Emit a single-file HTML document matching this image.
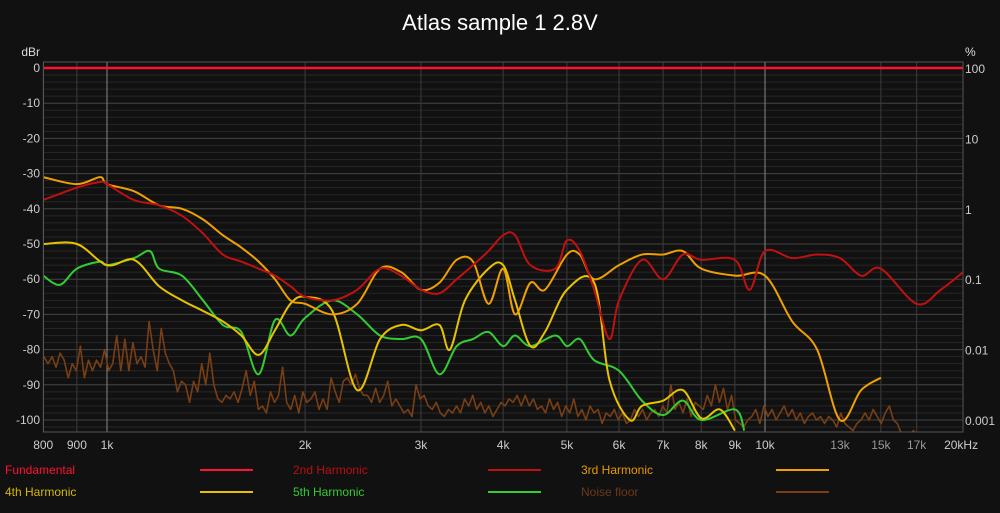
<!DOCTYPE html>
<html><head><meta charset="utf-8"><style>
body{margin:0;background:#111;width:1000px;height:508px;overflow:hidden;font-family:"Liberation Sans",sans-serif}
svg text{font-family:"Liberation Sans",sans-serif}
</style></head><body>
<svg id="c" width="1000" height="508">
<text x="500" y="30" fill="#fff" font-size="22" text-anchor="middle">Atlas sample 1 2.8V</text>
<text x="40" y="56" fill="#ddd" font-size="12" text-anchor="end">dBr</text>
<text x="965" y="56" fill="#ddd" font-size="12">%</text>
<g id="grid"></g><g id="series"></g><g id="axes"></g><g id="legend"></g>
</svg>
<script>
const freqTicks=[800,900,1000,2000,3000,4000,5000,6000,7000,8000,9000,10000,13000,15000,17000,20000];
const freqLabels=["800","900","1k","2k","3k","4k","5k","6k","7k","8k","9k","10k","13k","15k","17k","20kHz"];
const gridFreqs=[800,900,1000,2000,3000,4000,5000,6000,7000,8000,9000,10000,15000,17000];
const dbTicks=[0,-10,-20,-30,-40,-50,-60,-70,-80,-90,-100];
const pctTicks=[0,-20,-40,-60,-80,-100];
const pctLabels=["100","10","1","0.1","0.01","0.001"];
const fundF=[800,20000];const fundV=[0,0];
const h2F=[800,900,976,1000,1099,1200,1300,1399,1500,1600,1700,1800,1900,2000,2200,2400,2600,2800,3000,3200,3400,3600,3800,4000,4170,4400,4800,5000,5230,5500,5800,6000,6500,7000,7500,8000,9000,9480,10000,11000,12000,13000,14000,15000,17000,18500,20000];
const h2V=[-37.5,-34,-32.4,-33,-37.5,-39,-42,-47,-53,-55,-57,-59,-62,-65,-66,-63,-57,-59,-63,-64,-60,-56,-52,-47.5,-47.5,-56,-57,-49,-52,-63,-77,-66,-54.5,-60,-53,-54.5,-54.5,-63,-52,-54,-53,-54,-59,-57,-67,-63,-58];
const h3F=[800,900,976,1000,1099,1200,1300,1399,1500,1600,1700,1800,1900,2000,2200,2400,2600,2800,3000,3200,3400,3600,3800,4000,4170,4400,4630,5000,5230,5500,6000,6500,7000,7500,8000,9000,10000,11000,12000,13000,14000,15000];
const h3V=[-31,-33,-31,-33,-35,-39,-40,-43,-47.5,-51,-55,-60,-66,-67,-70,-67,-57,-58,-63,-61,-54.5,-55,-67,-57,-70,-61,-63,-53,-53,-60,-56,-53,-53,-52,-57,-59,-59,-72,-80,-100,-91.5,-88];
const h4F=[800,900,1000,1099,1200,1300,1399,1500,1600,1700,1800,1900,2000,2200,2400,2600,2800,3000,3200,3320,3500,3800,4000,4170,4400,4630,5000,5500,5800,6230,6500,7000,7500,8000,8540,9000];
const h4V=[-50,-50,-56,-54.5,-62,-66,-69,-72,-76,-81.5,-74.5,-67,-65,-69,-91.5,-77,-73,-74.5,-73,-80,-66,-57,-56,-66,-79,-75,-63,-61,-88.5,-100,-96,-94.5,-91.5,-99.5,-97,-103];
const h5F=[800,848,900,976,1000,1099,1162,1200,1300,1399,1500,1600,1700,1800,1900,2000,2200,2400,2600,2800,3000,3200,3400,3600,3800,4000,4170,4400,4800,5000,5230,5500,6000,6500,7000,7500,8000,9000,9300];
const h5V=[-59,-61.6,-57,-55,-56,-54,-52,-57,-59,-66,-73,-75,-87,-71.6,-76,-71,-66,-70,-76,-77,-77,-87,-79,-77,-75,-79,-76,-79,-76,-79,-77,-83,-86,-94.5,-98.6,-94.5,-100,-97,-103];
const noiseStartHz=802;
const noiseEndHz=17800;
const nV=[-82,-84,-82,-85,-81,-83,-88,-84,-86,-79,-88,-83,-86,-83,-85,-80,-86,-84,-76,-86,-77,-86,-78,-84,-82,-85,-72,-80,-86,-74,-81,-84,-86,-92,-89,-90,-95,-89,-92,-84,-90,-81,-90,-94,-95,-93,-94,-92,-95,-91,-86,-93,-89,-97,-96,-98,-92,-95,-93,-85,-95,-97,-93,-98,-92,-95,-94,-92,-97,-94,-97,-88,-92,-95,-89,
-88,-90,-87,-91,-93,-93,-95,-91,-95,-93,-89,-96,-94,-96,-98,-97,-99,-90,-94,-93,-96,-97,-95,-98,-99,-97,-98,-96,-98,-94,-96,-93,-97,-95,-98,-96,-99,-97,-95,-96,-94,-95,-93,-96,-93,-96,-94,-97,-96,-98,-94,-97,-95,-99,-96,-98,-94,-99,-97,-100,-96,-98,-97,-101,-98,-99,-97,-100,-98,-101,-100,
-97,-99,-97,-100,-98,-97,-99,-96,-98,-90,-97,-95,-98,-94,-99,-95,-96,-97,-93,-96,-90,-95,-91,-97,-93,-100,-101,-102,-100,-99,-97,-101,-96,-99,-97,-100,-98,-96,-99,-97,-100,-98,-101,-99,-98,-100,-99,-101,-99,-100,-102,-98,-101,-102,-103,-101,-100,-98,-100,-97,-99,-101,-98,-96,-100,-101,-104,-105,-104,-103,-106,-105,-106,-107];
const L=43.5,R=963,T=62,B=432,Y0=68,YS=3.52;
const fx=f=>107+658*Math.log10(f/1000);
const dy=d=>Y0-d*YS;
const nF=nV.map((v,i)=>noiseStartHz*Math.pow(noiseEndHz/noiseStartHz,i/(nV.length-1)));
const NS="http://www.w3.org/2000/svg";
function mk(tag,attrs,parent){const e=document.createElementNS(NS,tag);for(const k in attrs)e.setAttribute(k,attrs[k]);parent.appendChild(e);return e;}
const grid=document.getElementById('grid'),axes=document.getElementById('axes'),ser=document.getElementById('series'),leg=document.getElementById('legend');
for(let d=0;d>=-104;d-=2){const y=dy(d);if(y>B)break;const ln=mk('line',{x1:L,x2:R,y1:y,y2:y,stroke:d%10==0?'#444':'#262626','stroke-width':1},grid);}
gridFreqs.forEach(f=>{const x=fx(f);const ln=mk('line',{x1:x,x2:x,y1:T,y2:B,stroke:(f==1000||f==10000)?'#888':'#3c3c3c','stroke-width':1},grid);});
const fr=mk('rect',{x:L,y:T,width:R-L,height:B-T,fill:'none',stroke:'#555'},axes);
dbTicks.forEach(d=>{const t=mk('text',{x:40,y:dy(d)+4,fill:'#ccc','font-size':12,'text-anchor':'end'},axes);t.textContent=d;});
pctTicks.forEach((d,i)=>{const t=mk('text',{x:965,y:dy(d)+5,fill:'#ccc','font-size':12},axes);t.textContent=pctLabels[i];});
freqTicks.forEach((f,i)=>{const t=mk('text',{x:fx(f)+(i==freqTicks.length-1?-2:0),y:449,fill:(f==13000||f==15000||f==17000)?'#999':'#ccc','font-size':12,'text-anchor':'middle'},axes);t.textContent=freqLabels[i];});
mk('clipPath',{id:'clip'},ser).appendChild(document.createElementNS(NS,'rect'));
const cr=ser.querySelector('clipPath rect');cr.setAttribute('x',L);cr.setAttribute('y',T);cr.setAttribute('width',R-L);cr.setAttribute('height',B-T);
function path(F,V,lin){const p=F.map((f,i)=>[fx(f),dy(V[i])]);let d='M'+p[0][0]+','+p[0][1];for(let i=0;i<p.length-1;i++){const p0=p[i-1]||p[i],p1=p[i],p2=p[i+1],p3=p[i+2]||p2;if(lin){d+=`L${p2[0]},${p2[1]}`;continue;}const c1x=p1[0]+(p2[0]-p0[0])/6,c1y=p1[1]+(p2[1]-p0[1])/6,c2x=p2[0]-(p3[0]-p1[0])/6,c2y=p2[1]-(p3[1]-p1[1])/6;d+=`C${c1x},${c1y} ${c2x},${c2y} ${p2[0]},${p2[1]}`;}return d;}
const series=[
{n:'Noise floor',F:nF,V:nV,c:'#7a3e14',tc:'#6a3a1a',w:1.6,nm:'noise-floor-line',lin:true},
{n:'5th Harmonic',F:h5F,V:h5V,c:'#33cc33',tc:'#33cc33',w:2,nm:'5th-harmonic-line'},
{n:'4th Harmonic',F:h4F,V:h4V,c:'#e6c200',tc:'#d4b800',w:2,nm:'4th-harmonic-line'},
{n:'3rd Harmonic',F:h3F,V:h3V,c:'#f0a000',tc:'#e69a00',w:2,nm:'3rd-harmonic-line'},
{n:'2nd Harmonic',F:h2F,V:h2V,c:'#c01010',tc:'#b81010',w:2,nm:'2nd-harmonic-line'},
{n:'Fundamental',F:fundF,V:fundV,c:'#ff1133',tc:'#ff1133',w:2.5,nm:'fundamental-line'}];
series.forEach(s=>{const e=mk('path',{d:path(s.F,s.V,s.lin),fill:'none',stroke:s.c,'stroke-width':s.w,'stroke-linejoin':'round','clip-path':'url(#clip)'},ser);});
const order=['Fundamental','2nd Harmonic','3rd Harmonic','4th Harmonic','5th Harmonic','Noise floor'];
order.forEach((n,i)=>{const s=series.find(q=>q.n==n);const col=i%3,row=Math.floor(i/3);const x0=5+col*288,y0=474+row*22;
const t=mk('text',{x:x0,y:y0,fill:s.tc,'font-size':12},leg);t.textContent=n;
const l=mk('line',{x1:x0+195,x2:x0+248,y1:y0-4,y2:y0-4,stroke:s.c,'stroke-width':2},leg);});
</script>
</body></html>
